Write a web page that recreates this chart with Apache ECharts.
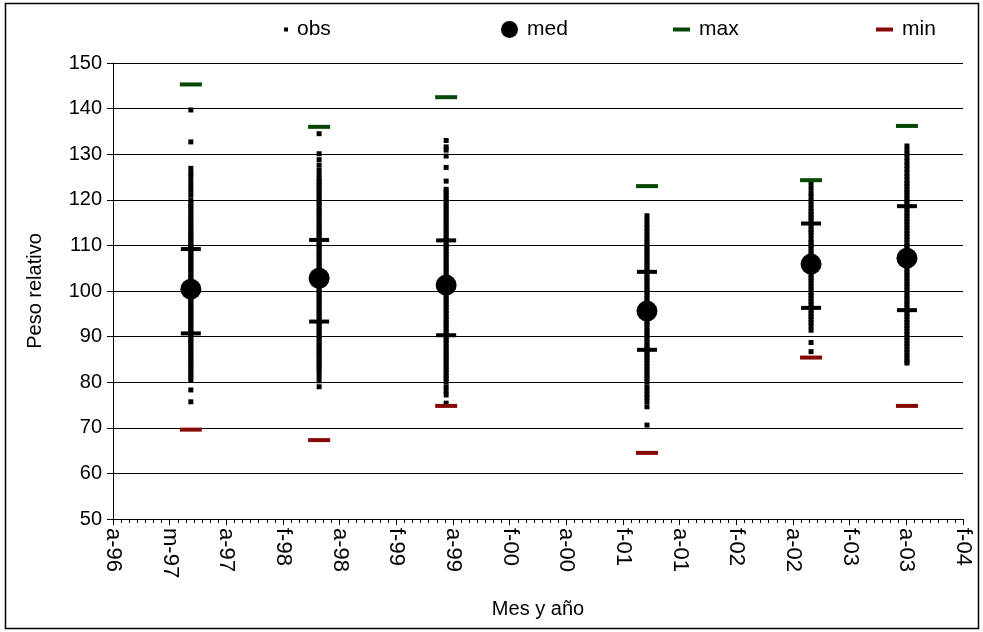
<!DOCTYPE html>
<html>
<head>
<meta charset="utf-8">
<script src="https://cdn.jsdelivr.net/npm/echarts@6/dist/echarts.min.js"></script>
<style>
  html, body { margin: 0; padding: 0; background: #fff; }
  #chart { width: 983px; height: 632px; }
</style>
</head>
<body>
<div id="chart"></div>
<script>
// Axis: days counted from the axis origin (end of Aug 1996), one label every 182 days
const xStep = 182;
const xTickLabels = ['a-96', 'm-97', 'a-97', 'f-98', 'a-98', 'f-99', 'a-99', 'f-00',
                     'a-00', 'f-01', 'a-01', 'f-02', 'a-02', 'f-03', 'a-03', 'f-04'];
const yTicks = [50, 60, 70, 80, 90, 100, 110, 120, 130, 140, 150];

// Sampling dates (days since axis origin)
const sampleDays = [250, 662, 1070, 1715, 2242, 2550];

// Summary values per sample
const medValues = [100.4, 102.8, 101.3, 95.6, 105.9, 107.2];
const maxValues = [145.3, 136.0, 142.5, 123.0, 124.3, 136.2];
const minValues = [69.6, 67.3, 74.8, 64.5, 85.4, 74.8];
const upperQuartile = [109.2, 111.2, 111.1, 104.2, 114.8, 118.6];
const lowerQuartile = [90.7, 93.3, 90.3, 87.1, 96.3, 95.8];

// Individual relative weights per sample
const obs1 = [139.7, 132.7, 126.9, 125.9, 125.1, 124.0, 123.0, 122.1, 121.1, 120.0, 119.2, 118.6,
  118.0, 117.3, 116.7, 116.0, 115.4, 114.7, 114.1, 113.6, 112.9, 112.3, 111.8, 111.2, 110.6, 110.0,
  109.5, 108.9, 108.3, 107.8, 107.2, 106.6, 106.1, 105.5, 104.9, 104.4, 103.8, 103.2, 102.7, 102.1,
  101.5, 101.0, 100.4, 99.8, 99.3, 98.7, 98.1, 97.6, 97.0, 96.4, 95.9, 95.3, 94.7, 94.2, 93.6, 93.0,
  92.5, 91.9, 91.3, 90.8, 90.2, 89.6, 89.0, 88.5, 87.9, 87.3, 86.7, 86.1, 85.5, 84.9, 84.3, 83.7,
  83.0, 82.4, 81.7, 81.1, 80.5, 78.3, 75.7];
const obs2 = [134.5, 130.1, 128.8, 127.6, 126.5, 125.6, 124.7, 124.0, 123.4, 122.8, 122.1, 121.5,
  120.8, 120.2, 119.5, 118.9, 118.2, 117.6, 117.0, 116.3, 115.7, 115.0, 114.4, 113.8, 113.1, 112.5,
  111.9, 111.2, 110.6, 110.0, 109.4, 108.7, 108.1, 107.5, 106.9, 106.2, 105.6, 105.0, 104.4, 103.7,
  103.1, 102.5, 101.9, 101.2, 100.6, 100.0, 99.4, 98.7, 98.1, 97.5, 96.9, 96.2, 95.6, 95.0, 94.4,
  93.7, 93.1, 92.5, 91.9, 91.2, 90.6, 90.0, 89.4, 88.7, 88.1, 87.5, 86.8, 86.2, 85.6, 84.9, 84.3,
  83.6, 83.0, 82.3, 81.3, 80.3, 79.0];
const obs3 = [133.0, 131.6, 130.9, 129.6, 127.1, 124.1, 122.3, 121.7, 121.0, 120.4, 119.7, 119.1,
  118.4, 117.8, 117.1, 116.5, 115.8, 115.2, 114.5, 113.9, 113.2, 112.6, 111.9, 111.3, 110.7, 110.0,
  109.4, 108.7, 108.1, 107.4, 106.8, 106.1, 105.5, 104.8, 104.2, 103.5, 102.9, 102.2, 101.6, 100.9,
  100.3, 99.6, 99.0, 98.3, 97.7, 97.0, 96.4, 95.7, 95.1, 94.4, 93.8, 93.1, 92.5, 91.8, 91.2, 90.5,
  89.9, 89.2, 88.6, 87.9, 87.3, 86.6, 86.0, 85.3, 84.7, 84.0, 83.4, 82.7, 82.1, 81.4, 80.8, 80.1,
  79.0, 78.1, 77.2, 75.4];
const obs4 = [116.5, 115.6, 114.7, 113.9, 113.1, 112.3, 111.5, 110.8, 110.1, 109.5, 108.8, 108.2,
  107.5, 106.9, 106.2, 105.6, 104.9, 104.3, 103.6, 103.0, 102.3, 101.7, 101.0, 100.4, 99.7, 99.1,
  98.4, 97.8, 97.1, 96.5, 95.8, 95.2, 94.5, 93.9, 93.2, 92.6, 91.9, 91.3, 90.6, 90.0, 89.3, 88.7,
  88.0, 87.4, 86.7, 86.1, 85.4, 84.8, 84.1, 83.5, 82.8, 82.2, 81.5, 80.8, 80.1, 79.0, 78.2, 77.4,
  76.6, 75.7, 74.6, 70.6];
const obs5 = [123.6, 122.5, 121.4, 120.6, 119.7, 118.9, 118.1, 117.4, 116.8, 116.1, 115.5, 114.8,
  114.2, 113.5, 112.9, 112.2, 111.3, 110.7, 110.0, 109.4, 108.7, 108.1, 107.4, 106.8, 106.1, 105.5,
  104.8, 104.2, 103.5, 102.9, 102.2, 101.6, 100.9, 100.3, 99.6, 99.0, 98.3, 97.7, 97.0, 96.4, 95.7,
  95.1, 94.4, 93.8, 93.1, 92.3, 91.4, 88.7, 86.7];
const obs6 = [131.8, 130.9, 130.1, 129.2, 128.4, 127.5, 126.7, 125.9, 125.1, 124.3, 123.6, 123.0,
  122.3, 121.7, 121.0, 120.4, 119.7, 119.1, 118.4, 117.8, 117.1, 116.5, 115.8, 115.2, 114.5, 113.9,
  113.2, 112.6, 111.9, 111.3, 110.6, 110.0, 109.3, 108.7, 108.0, 107.4, 106.7, 106.1, 105.4, 104.8,
  104.1, 103.5, 102.8, 102.2, 101.5, 100.9, 100.2, 99.6, 98.9, 98.3, 97.6, 97.0, 96.3, 95.7, 95.0,
  94.4, 93.7, 93.1, 92.4, 91.8, 91.1, 90.5, 89.8, 89.2, 88.5, 87.9, 87.2, 86.6, 85.9, 85.3, 84.6, 84.2];

const obsBySample = [obs1, obs2, obs3, obs4, obs5, obs6];

const FONT = 'Liberation Sans, Arial, sans-serif';
const GREEN = '#064706';
const RED = '#850808';

const pairs = (vals) => vals.map((v, i) => [sampleDays[i], v]);
const obsData = [];
obsBySample.forEach((list, i) => list.forEach(v => obsData.push([sampleDays[i], v])));

const chart = echarts.init(document.getElementById('chart'), null, { renderer: 'canvas' });

const legendBase = {
  top: 14,
  orient: 'horizontal',
  textStyle: { fontFamily: FONT, fontSize: 21, color: '#000', padding: [0, 0, 0, 4] },
  selectedMode: false
};

chart.setOption({
  animation: false,
  backgroundColor: '#fff',
  textStyle: { fontFamily: FONT },
  graphic: [{
    type: 'rect',
    shape: { x: 5.5, y: 3.5, width: 973, height: 625 },
    style: { fill: 'none', stroke: '#000', lineWidth: 1.5 },
    silent: true
  }],
  legend: [
    Object.assign({}, legendBase, { left: 279, data: [{ name: 'obs', icon: 'rect' }], itemWidth: 4, itemHeight: 4 }),
    Object.assign({}, legendBase, { left: 496, data: [{ name: 'med', icon: 'circle' }], itemWidth: 17, itemHeight: 17 }),
    Object.assign({}, legendBase, { left: 668, data: [{ name: 'max', icon: 'rect' }], itemWidth: 17, itemHeight: 4 }),
    Object.assign({}, legendBase, { left: 871, data: [{ name: 'min', icon: 'rect' }], itemWidth: 17, itemHeight: 4 })
  ],
  grid: { left: 113, right: 20, top: 63, bottom: 113, containLabel: false },
  xAxis: {
    type: 'value',
    min: 0,
    max: xStep * (xTickLabels.length - 1),
    interval: xStep,
    name: 'Mes y año',
    nameLocation: 'middle',
    nameGap: 80,
    nameTextStyle: { fontFamily: FONT, fontSize: 20, color: '#000' },
    axisLine: { lineStyle: { color: '#000', width: 1 } },
    axisTick: { show: true, inside: false, length: 6, lineStyle: { color: '#000' } },
    minorTick: { show: true, splitNumber: 7, length: 4, lineStyle: { color: '#000' } },
    splitLine: { show: false },
    axisLabel: {
      rotate: -90,
      margin: 9,
      fontFamily: FONT,
      fontSize: 22,
      color: '#000',
      formatter: (v) => xTickLabels[Math.round(v / xStep)]
    }
  },
  yAxis: {
    type: 'value',
    min: yTicks[0],
    max: yTicks[yTicks.length - 1],
    interval: 10,
    name: 'Peso relativo',
    nameLocation: 'middle',
    nameGap: 68,
    nameRotate: 90,
    nameTextStyle: { fontFamily: FONT, fontSize: 20, color: '#000' },
    axisLine: { show: true, lineStyle: { color: '#000', width: 1 } },
    axisTick: { show: true, length: 6, lineStyle: { color: '#000' } },
    splitLine: { show: true, lineStyle: { color: '#000', width: 1 } },
    axisLabel: { margin: 11, fontFamily: FONT, fontSize: 20, color: '#000' }
  },
  series: [
    {
      name: 'obs', type: 'scatter', symbol: 'rect', symbolSize: 5,
      itemStyle: { color: '#000', opacity: 1 }, data: obsData, z: 2
    },
    {
      name: 'quartiles', type: 'scatter', symbol: 'rect', symbolSize: [20, 4],
      itemStyle: { color: '#000', opacity: 1 },
      data: pairs(upperQuartile).concat(pairs(lowerQuartile)), z: 3
    },
    {
      name: 'med', type: 'scatter', symbol: 'circle', symbolSize: 21,
      itemStyle: { color: '#000', opacity: 1 }, data: pairs(medValues), z: 4
    },
    {
      name: 'max', type: 'scatter', symbol: 'rect', symbolSize: [22, 4],
      itemStyle: { color: GREEN, opacity: 1 }, data: pairs(maxValues), z: 4
    },
    {
      name: 'min', type: 'scatter', symbol: 'rect', symbolSize: [22, 4],
      itemStyle: { color: RED, opacity: 1 }, data: pairs(minValues), z: 4
    }
  ]
});
</script>
</body>
</html>
